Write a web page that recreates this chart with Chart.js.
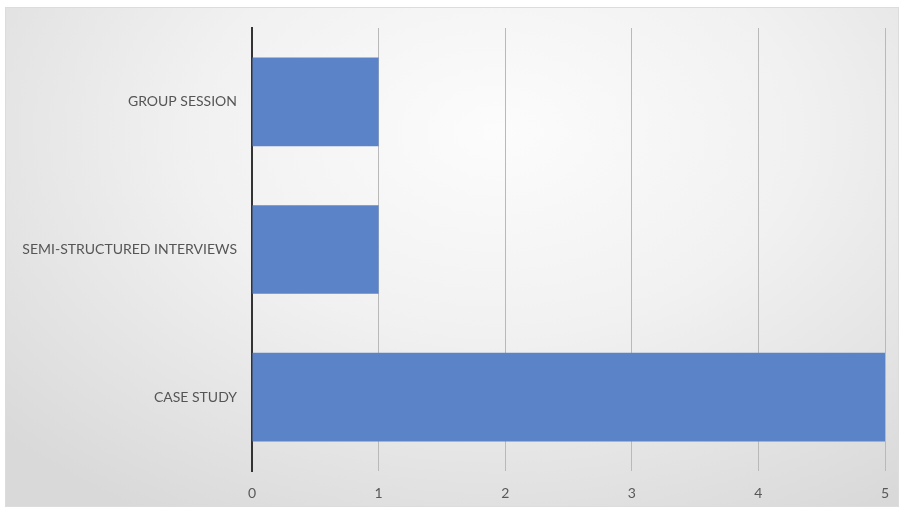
<!DOCTYPE html>
<html>
<head>
<meta charset="utf-8">
<script src="https://cdn.jsdelivr.net/npm/chart.js@4/dist/chart.umd.min.js"></script>
<style>
    html, body { margin: 0; padding: 0; background: #ffffff; }
    #frame {
        position: absolute;
        left: 5px;
        top: 7px;
        width: 892px;
        height: 498px;
        border: 1px solid #dcdcdc;
        background: radial-gradient(ellipse 75% 90% at 55% 25%, #fcfcfc 0%, #f1f1f1 45%, #d9d9d9 100%);
    }
    #methods { display: block; }
</style>
</head>
<body>
<div id="frame">
    <canvas id="methods" width="892" height="498"></canvas>
</div>
<script>
const categories = ['GROUP SESSION', 'SEMI-STRUCTURED INTERVIEWS', 'CASE STUDY'];
const studyCounts = [1, 1, 5];
const xTicks = [0, 1, 2, 3, 4, 5];

const labelFont = { family: 'Lato, "Open Sans", sans-serif', size: 14 };

const ctx = document.getElementById('methods').getContext('2d');
const chart = new Chart(ctx, {
    type: 'bar',
    data: {
        labels: categories,
        datasets: [{
            data: studyCounts,
            backgroundColor: '#5a83c8',
            borderWidth: 0,
            barPercentage: 0.6,
            categoryPercentage: 1.0
        }]
    },
    options: {
        indexAxis: 'y',
        responsive: false,
        animation: false,
        layout: {
            padding: { top: 20, right: 13, bottom: 0, left: 0 }
        },
        plugins: {
            legend: { display: false },
            tooltip: { enabled: false }
        },
        scales: {
            x: {
                min: xTicks[0],
                max: xTicks[xTicks.length - 1],
                afterBuildTicks(scale) {
                    scale.ticks = xTicks.map(v => ({ value: v }));
                },
                afterFit(scale) {
                    // fixed axis band; edge room comes from layout padding only
                    scale.height = 35;
                    scale.paddingLeft = 0;
                    scale.paddingRight = 0;
                },
                grid: {
                    drawTicks: false,
                    color: c => (c.tick && c.tick.value === 0) ? 'rgba(0,0,0,0)' : '#b9b9b9',
                    lineWidth: 1
                },
                border: { display: false },
                ticks: {
                    padding: 14,
                    color: '#595959',
                    font: labelFont
                }
            },
            y: {
                afterFit(scale) {
                    scale.width = 246;
                    scale.paddingTop = 0;
                    scale.paddingBottom = 0;
                },
                grid: { display: false, drawTicks: false },
                border: { display: true, color: '#333333', width: 2 },
                ticks: {
                    padding: 15,
                    color: '#555555',
                    font: labelFont
                }
            }
        }
    }
});
</script>
</body>
</html>
